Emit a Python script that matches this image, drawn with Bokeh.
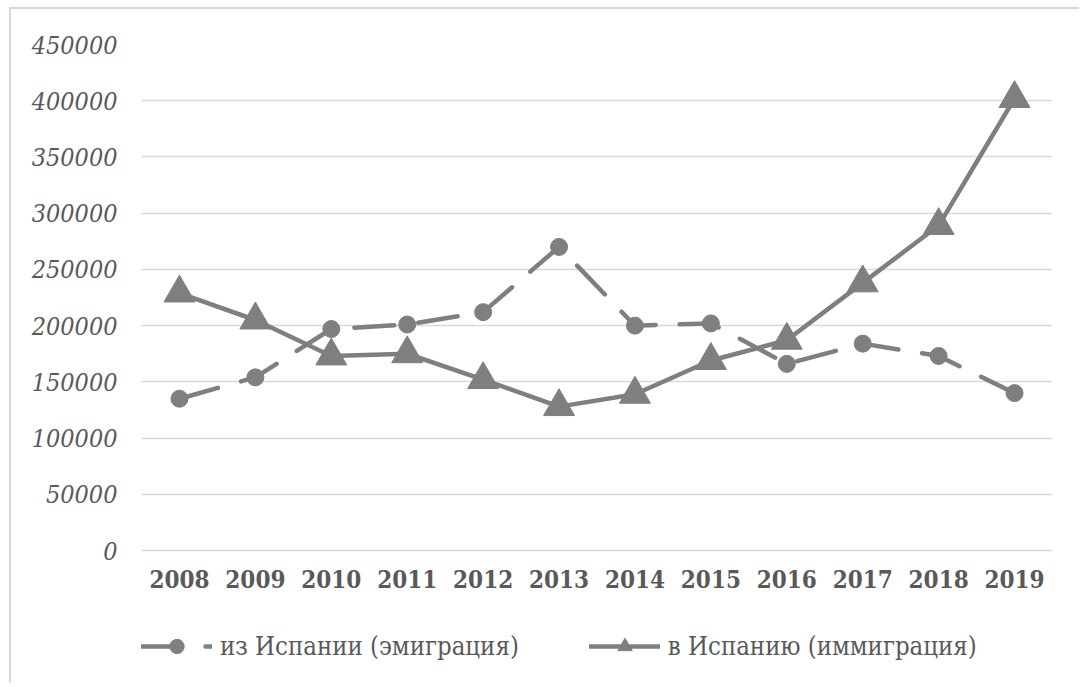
from bokeh.plotting import figure
from bokeh.models import FactorRange, Range1d, FixedTicker, NumeralTickFormatter, Legend, LegendItem
from bokeh.core.properties import value
from bokeh.embed import file_html
from bokeh.resources import INLINE

years = ["2008", "2009", "2010", "2011", "2012", "2013", "2014", "2015", "2016", "2017", "2018", "2019"]
emigration = [135000, 154000, 197000, 201000, 212000, 270000, 200000, 202000, 166000, 184000, 173000, 140000]
immigration = [229000, 205000, 173000, 175000, 152000, 128000, 139000, 169000, 187000, 238000, 289000, 402000]
y_ticks = [0, 50000, 100000, 150000, 200000, 250000, 300000, 350000, 400000, 450000]
label_emig = "из Испании (эмиграция)"
label_immig = "в Испанию (иммиграция)"

GREY = "#7f7f7f"
TXT = "#595959"
SERIF_C = "DejaVu Serif Condensed"

p = figure(width=1070, height=676, x_range=FactorRange(*years, range_padding=0),
           y_range=Range1d(-120000, 450000), output_backend="svg", toolbar_location=None,
           x_axis_location=None,
           min_border_left=130, min_border_right=29, min_border_top=35, min_border_bottom=0)
p.x_range.factor_padding = 0
p.outline_line_color = None
p.styles = {"border-top": "2px solid #d9d9d9", "border-left": "2px solid #d9d9d9",
            "margin-top": "7px", "margin-left": "9px"}

p.xgrid.grid_line_color = None
p.ygrid.ticker = FixedTicker(ticks=y_ticks)
p.ygrid.grid_line_color = "#d9d9d9"
p.ygrid.grid_line_width = 1.5

l1 = p.line(years, emigration, line_color=GREY, line_width=4.5, line_dash="40 24", line_cap="round")
s1 = p.scatter(years, emigration, marker="circle", size=17, fill_color=GREY, line_color=GREY)
l2 = p.line(years, immigration, line_color=GREY, line_width=4.5, line_cap="round", line_join="round")
s2 = p.scatter(years, immigration, marker="triangle", size=31, fill_color=GREY, line_color=GREY)

p.yaxis.ticker = FixedTicker(ticks=y_ticks)
p.yaxis.formatter = NumeralTickFormatter(format="0")
p.yaxis.axis_line_color = None
p.yaxis.major_tick_line_color = None
p.yaxis.minor_tick_line_color = None
p.yaxis.major_label_standoff = 18
p.yaxis.major_label_text_font = SERIF_C
p.yaxis.major_label_text_font_style = "italic"
p.yaxis.major_label_text_font_size = "25px"
p.yaxis.major_label_text_color = TXT

p.text(x=years, y=[0] * len(years), text=years, y_offset=28,
       text_align="center", text_baseline="middle",
       text_font=value(SERIF_C), text_font_style="bold", text_font_size="24px", text_color=TXT)

legend = Legend(items=[LegendItem(label=label_emig, renderers=[l1, s1]),
                       LegendItem(label=label_immig, renderers=[l2, s2])],
                orientation="horizontal", location=(0, 21),
                glyph_width=71, glyph_height=36, label_standoff=8, spacing=70,
                border_line_color=None, background_fill_alpha=0, padding=0)
legend.label_text_font = SERIF_C
legend.label_text_font_size = "25.5px"
legend.label_text_color = TXT
p.add_layout(legend, "center")

open("out.html", "w").write(file_html(p, INLINE))
